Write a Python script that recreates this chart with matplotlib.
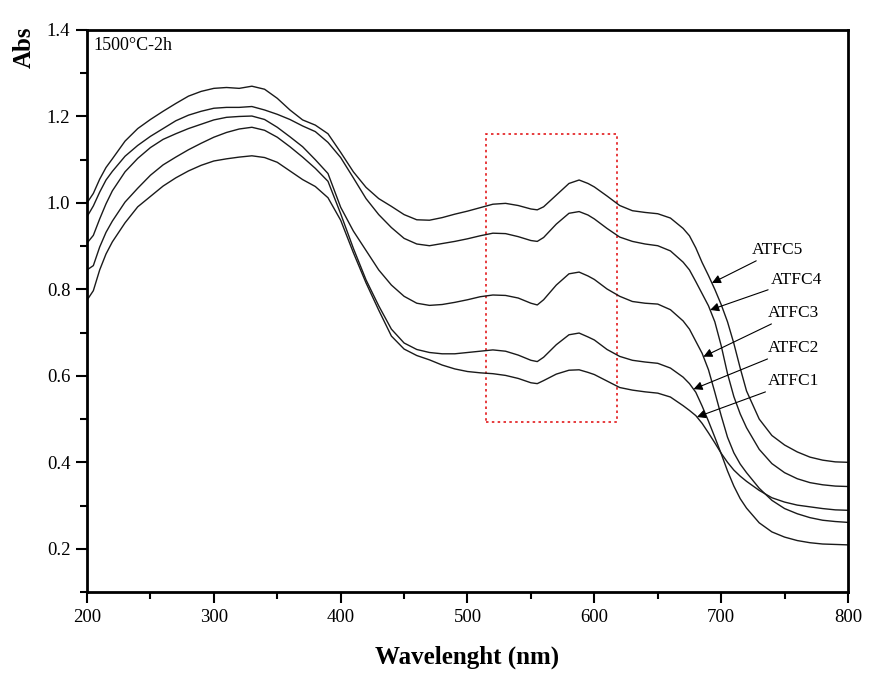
import numpy as np
import matplotlib
matplotlib.use("Agg")
import matplotlib.pyplot as plt
from matplotlib.patches import Rectangle
from matplotlib.ticker import MultipleLocator

plt.rcParams['font.family'] = ['Liberation Serif', 'DejaVu Serif']
plt.rcParams['mathtext.fontset'] = 'stix'

wavelength = [200, 205, 210, 215, 220, 230, 240, 250, 260, 270, 280, 290, 300, 310, 320, 330,
              340, 350, 360, 370, 380, 390, 400, 410, 420, 430, 440, 450, 460, 470, 480, 490,
              500, 510, 520, 530, 540, 550, 555, 560, 570, 580, 588, 595, 600, 610, 620, 630,
              640, 650, 660, 670, 675, 680, 685, 690, 695, 700, 705, 710, 715, 720, 730, 740,
              750, 760, 770, 780, 790, 800]

atfc5 = [1.000, 1.022, 1.055, 1.082, 1.102, 1.143, 1.172, 1.193, 1.212, 1.230, 1.247, 1.258,
         1.265, 1.267, 1.265, 1.270, 1.263, 1.242, 1.215, 1.192, 1.180, 1.160, 1.117, 1.072,
         1.036, 1.010, 0.992, 0.973, 0.961, 0.960, 0.966, 0.974, 0.981, 0.989, 0.997, 0.999,
         0.994, 0.986, 0.984, 0.991, 1.018, 1.045, 1.053, 1.045, 1.037, 1.016, 0.994, 0.982,
         0.978, 0.975, 0.965, 0.941, 0.924, 0.896, 0.862, 0.832, 0.800, 0.765, 0.725, 0.675,
         0.618, 0.565, 0.500, 0.462, 0.440, 0.424, 0.412, 0.405, 0.401, 0.400]

atfc4 = [0.968, 0.993, 1.025, 1.053, 1.073, 1.108, 1.133, 1.154, 1.172, 1.190, 1.203, 1.212,
         1.219, 1.221, 1.221, 1.223, 1.215, 1.205, 1.193, 1.178, 1.165, 1.140, 1.105, 1.058,
         1.010, 0.973, 0.943, 0.918, 0.905, 0.901, 0.906, 0.911, 0.917, 0.924, 0.930, 0.929,
         0.922, 0.913, 0.911, 0.920, 0.951, 0.976, 0.980, 0.972, 0.963, 0.941, 0.921, 0.911,
         0.905, 0.901, 0.889, 0.863, 0.845, 0.818, 0.790, 0.762, 0.725, 0.670, 0.605, 0.552,
         0.512, 0.480, 0.430, 0.397, 0.376, 0.362, 0.353, 0.348, 0.345, 0.344]

atfc3 = [0.907, 0.925, 0.963, 0.998, 1.028, 1.072, 1.103, 1.128, 1.147, 1.160, 1.172, 1.182,
         1.192, 1.198, 1.200, 1.201, 1.193, 1.175, 1.153, 1.130, 1.100, 1.068, 0.990, 0.935,
         0.890, 0.845, 0.810, 0.784, 0.768, 0.763, 0.765, 0.770, 0.776, 0.783, 0.787, 0.786,
         0.780, 0.768, 0.764, 0.776, 0.810, 0.836, 0.840, 0.831, 0.823, 0.801, 0.784, 0.772,
         0.768, 0.766, 0.753, 0.727, 0.708, 0.680, 0.652, 0.614, 0.562, 0.508, 0.458, 0.422,
         0.396, 0.376, 0.340, 0.312, 0.293, 0.281, 0.272, 0.266, 0.263, 0.261]

atfc2 = [0.845, 0.855, 0.898, 0.932, 0.958, 1.002, 1.034, 1.064, 1.088, 1.106, 1.123, 1.138,
         1.152, 1.163, 1.171, 1.175, 1.168, 1.152, 1.130, 1.106, 1.080, 1.050, 0.975, 0.895,
         0.822, 0.762, 0.708, 0.676, 0.661, 0.654, 0.651, 0.651, 0.654, 0.657, 0.660, 0.657,
         0.648, 0.636, 0.633, 0.643, 0.672, 0.695, 0.699, 0.690, 0.683, 0.661, 0.645, 0.636,
         0.632, 0.629, 0.618, 0.597, 0.582, 0.562, 0.530, 0.495, 0.458, 0.420, 0.380, 0.345,
         0.316, 0.294, 0.260, 0.239, 0.227, 0.219, 0.214, 0.211, 0.210, 0.209]

atfc1 = [0.775, 0.797, 0.845, 0.882, 0.910, 0.954, 0.991, 1.015, 1.039, 1.058, 1.074, 1.087,
         1.097, 1.102, 1.106, 1.109, 1.105, 1.094, 1.074, 1.054, 1.038, 1.012, 0.960, 0.885,
         0.815, 0.752, 0.692, 0.662, 0.647, 0.637, 0.625, 0.616, 0.610, 0.607, 0.605, 0.601,
         0.594, 0.584, 0.582, 0.589, 0.604, 0.613, 0.614, 0.608, 0.603, 0.588, 0.573, 0.567,
         0.563, 0.560, 0.551, 0.531, 0.520, 0.508, 0.490, 0.468, 0.445, 0.421, 0.400, 0.382,
         0.368, 0.356, 0.335, 0.318, 0.308, 0.301, 0.297, 0.293, 0.290, 0.289]

series_names = ['ATFC5', 'ATFC4', 'ATFC3', 'ATFC2', 'ATFC1']
series_values = [atfc5, atfc4, atfc3, atfc2, atfc1]

# layout of labels: (text x, text y, arrow tip wavelength)
label_layout = [(724.4, 0.891, 692.7),
                (739.2, 0.822, 691.3),
                (737.1, 0.745, 686.0),
                (737.1, 0.664, 678.2),
                (737.1, 0.587, 680.9)]

fig = plt.figure(figsize=(8.87, 6.86), dpi=100)
ax = fig.add_axes([87/887, 1-592/686, (848-87)/887, (592-30)/686])

for name, vals in zip(series_names, series_values):
    ax.plot(wavelength, vals, color='#1a1a1a', lw=1.0)

for name, vals, (tx, ty, twl) in zip(series_names, series_values, label_layout):
    tip_y = np.interp(twl, wavelength, vals)
    ax.annotate(name, xy=(twl, tip_y), xytext=(tx, ty), textcoords='data',
                ha='left', va='center', fontsize=12.5,
                arrowprops=dict(arrowstyle='-|>', color='black', lw=0.8,
                                shrinkA=0, shrinkB=0, mutation_scale=13))

rect = Rectangle((514.7, 0.494), 103.3, 0.666, fill=False, edgecolor='#e31a1c',
                 linestyle=(0, (1.5, 2.0)), lw=1.2)
ax.add_patch(rect)

ax.text(0.008, 0.973, '1500°C-2h', transform=ax.transAxes, ha='left', va='center',
        fontsize=13)

ax.set_xlim(200, 800)
ax.set_ylim(0.1, 1.4)
ax.xaxis.set_major_locator(MultipleLocator(100))
ax.xaxis.set_minor_locator(MultipleLocator(50))
ax.yaxis.set_minor_locator(MultipleLocator(0.1))
ax.set_yticks([0.2, 0.4, 0.6, 0.8, 1.0, 1.2, 1.4])
ax.set_yticklabels(['0.2', '0.4', '0.6', '0.8', '1.0', '1.2', '1.4'])

ax.tick_params(which='major', direction='out', length=8, width=1.5, labelsize=13.5,
               top=False, right=False, pad=4)
ax.tick_params(which='minor', direction='out', length=5, width=1.5,
               top=False, right=False)
for sp in ax.spines.values():
    sp.set_linewidth(2.0)

ax.set_xlabel('Wavelenght (nm)', fontsize=18, fontweight='bold', labelpad=14)
ax.set_ylabel('Abs', fontsize=18, fontweight='bold')
ax.yaxis.set_label_coords(-0.068, 0.97)

fig.savefig('out.png', dpi=100)
